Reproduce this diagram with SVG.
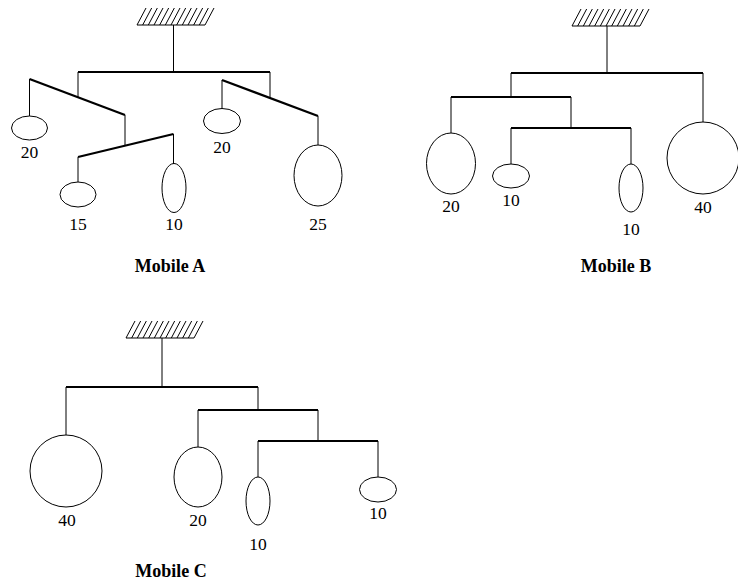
<svg xmlns="http://www.w3.org/2000/svg" width="738" height="581" viewBox="0 0 738 581">
<style>
.bg{fill:#fff}
.str{stroke:#000;stroke-width:1;fill:none}
.bar{stroke:#000;stroke-width:2.2;fill:none}
.hat{stroke:#000;stroke-width:1;fill:none}
.wt{stroke:#000;stroke-width:1;fill:none}
.num{font-family:"Liberation Serif","Times New Roman",serif;font-size:17.5px;text-anchor:middle;fill:#000}
.ttl{font-family:"Liberation Serif","Times New Roman",serif;font-size:18px;font-weight:bold;text-anchor:middle;fill:#000}
</style>
<defs>
<g id="hatch">
<line class="hat" x1="0" y1="17" x2="68" y2="17"/>
<path class="hat" d="M0,17l9,-17 M5.67,17l9,-17 M11.33,17l9,-17 M17,17l9,-17 M22.67,17l9,-17 M28.33,17l9,-17 M34,17l9,-17 M39.67,17l9,-17 M45.33,17l9,-17 M51,17l9,-17 M56.67,17l9,-17 M62.33,17l9,-17 M68,17l9,-17"/>
</g>
</defs>
<rect class="bg" x="0" y="0" width="738" height="581"/>

<!-- Mobile A -->
<g id="mobileA">
<g id="A-support"><use href="#hatch" x="137" y="8"/></g>
<g id="A-connectors">
<line class="str" x1="173.5" y1="25" x2="173.5" y2="72"/>
<line class="bar" x1="78" y1="72" x2="270" y2="72"/>
<line class="str" x1="78" y1="72" x2="78" y2="97"/>
<line class="str" x1="270" y1="72" x2="270" y2="98"/>
<line class="bar" x1="29.5" y1="79" x2="125" y2="115"/>
<line class="str" x1="29.5" y1="79" x2="29.5" y2="116"/>
<line class="str" x1="125" y1="115" x2="125" y2="145.5"/>
<line class="bar" x1="78" y1="157" x2="173.5" y2="134"/>
<line class="str" x1="78" y1="157" x2="78" y2="182"/>
<line class="str" x1="173.5" y1="134" x2="173.5" y2="164"/>
<line class="bar" x1="222" y1="80" x2="318" y2="116"/>
<line class="str" x1="222" y1="80" x2="222" y2="108.5"/>
<line class="str" x1="318" y1="116" x2="318" y2="145"/>
</g>
<g id="A-w20a"><ellipse class="wt" cx="29.5" cy="128" rx="18" ry="12"/><text class="num" x="29.5" y="158">20</text></g>
<g id="A-w15"><ellipse class="wt" cx="78" cy="194.5" rx="18" ry="12.5"/><text class="num" x="78" y="230">15</text></g>
<g id="A-w10"><ellipse class="wt" cx="174" cy="188" rx="12" ry="24.5"/><text class="num" x="174" y="230">10</text></g>
<g id="A-w20b"><ellipse class="wt" cx="222" cy="121" rx="18.5" ry="12.5"/><text class="num" x="222" y="153">20</text></g>
<g id="A-w25"><ellipse class="wt" cx="318" cy="175.5" rx="24" ry="30.5"/><text class="num" x="318" y="230">25</text></g>
<text class="ttl" x="170" y="272">Mobile A</text>
</g>

<!-- Mobile B -->
<g id="mobileB">
<g id="B-support"><use href="#hatch" x="572" y="9"/></g>
<g id="B-connectors">
<line class="str" x1="607" y1="26" x2="607" y2="73"/>
<line class="bar" x1="511" y1="73" x2="703" y2="73"/>
<line class="str" x1="703" y1="73" x2="703" y2="122"/>
<line class="str" x1="511" y1="73" x2="511" y2="97"/>
<line class="bar" x1="451" y1="97" x2="571" y2="97"/>
<line class="str" x1="451" y1="97" x2="451" y2="133"/>
<line class="str" x1="571" y1="97" x2="571" y2="128"/>
<line class="bar" x1="511" y1="128" x2="631" y2="128"/>
<line class="str" x1="511" y1="128" x2="511" y2="164"/>
<line class="str" x1="631" y1="128" x2="631" y2="164"/>
</g>
<g id="B-w40"><circle class="wt" cx="703" cy="158" r="36"/><text class="num" x="703" y="213">40</text></g>
<g id="B-w20"><ellipse class="wt" cx="451" cy="163.5" rx="24.5" ry="30.5"/><text class="num" x="451" y="212">20</text></g>
<g id="B-w10a"><ellipse class="wt" cx="511" cy="176" rx="18.5" ry="12"/><text class="num" x="511" y="206">10</text></g>
<g id="B-w10b"><ellipse class="wt" cx="631" cy="188" rx="12" ry="24"/><text class="num" x="631" y="235">10</text></g>
<text class="ttl" x="616" y="272">Mobile B</text>
</g>

<!-- Mobile C -->
<g id="mobileC">
<g id="C-support"><use href="#hatch" x="126" y="321"/></g>
<g id="C-connectors">
<line class="str" x1="162" y1="338" x2="162" y2="387"/>
<line class="bar" x1="66" y1="387" x2="258" y2="387"/>
<line class="str" x1="66" y1="387" x2="66" y2="435"/>
<line class="str" x1="258" y1="387" x2="258" y2="410"/>
<line class="bar" x1="198" y1="410" x2="318" y2="410"/>
<line class="str" x1="198" y1="410" x2="198" y2="447"/>
<line class="str" x1="318" y1="410" x2="318" y2="441"/>
<line class="bar" x1="258" y1="441" x2="378" y2="441"/>
<line class="str" x1="258" y1="441" x2="258" y2="477"/>
<line class="str" x1="378" y1="441" x2="378" y2="477"/>
</g>
<g id="C-w40"><circle class="wt" cx="66" cy="471" r="36"/><text class="num" x="67" y="526">40</text></g>
<g id="C-w20"><ellipse class="wt" cx="198" cy="477" rx="24" ry="30"/><text class="num" x="198" y="526">20</text></g>
<g id="C-w10a"><ellipse class="wt" cx="258" cy="501" rx="12" ry="24"/><text class="num" x="258" y="550">10</text></g>
<g id="C-w10b"><ellipse class="wt" cx="378" cy="489.5" rx="18.5" ry="12.5"/><text class="num" x="378" y="519">10</text></g>
<text class="ttl" x="171" y="577">Mobile C</text>
</g>
</svg>
